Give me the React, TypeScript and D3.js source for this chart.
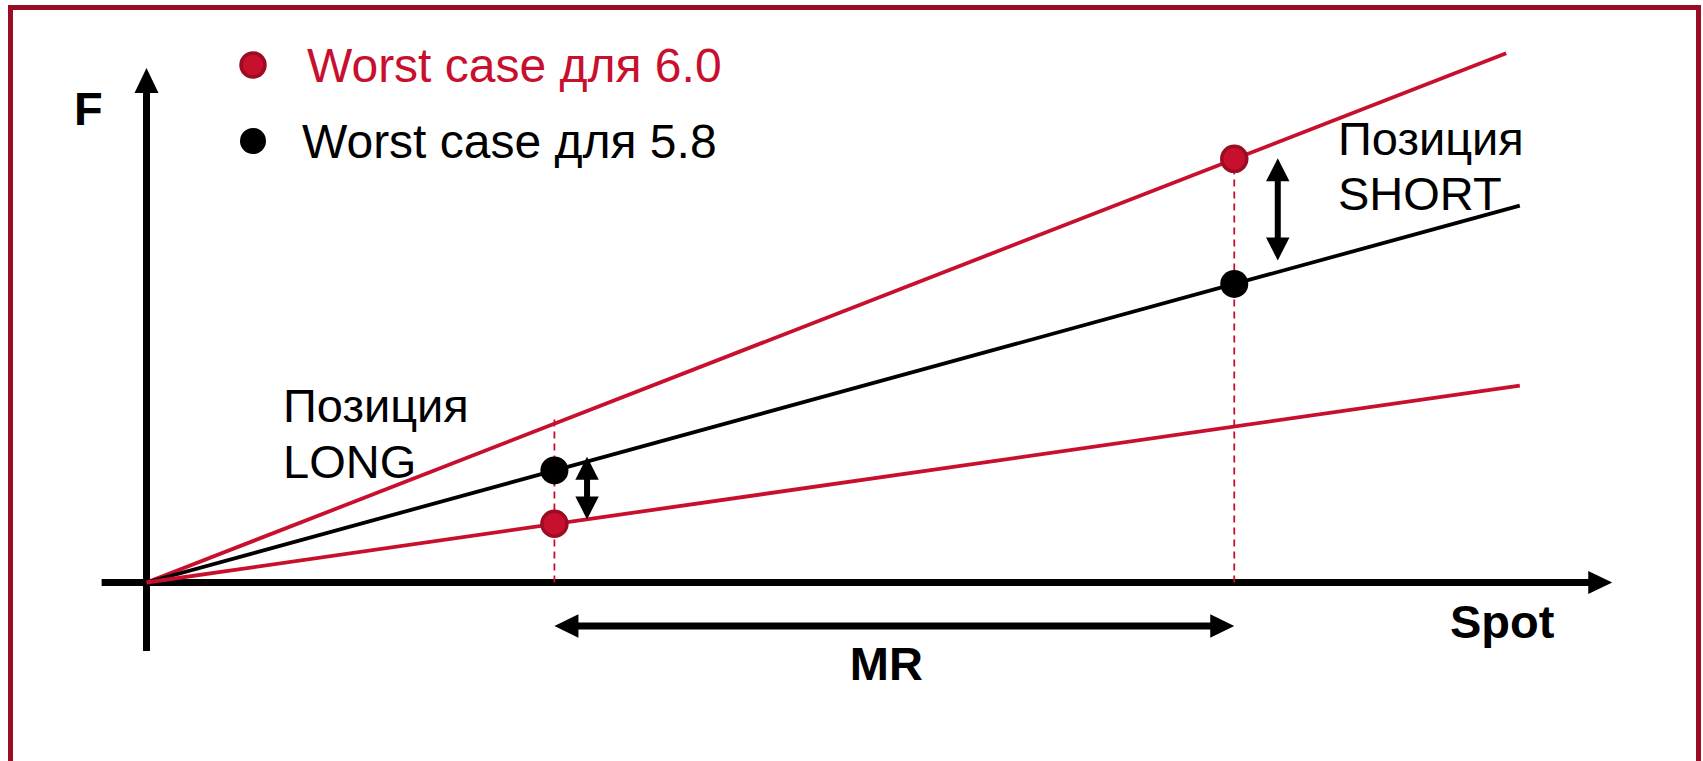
import React from "react";
import * as d3 from "d3";

// Futures price F against Spot: worst-case lines for two parameter levels
const lineKeys = ["upper6", "base58", "lower6"];
const lineSeries = ["6.0", "5.8", "6.0"];
const lineSpotEnd = [10.0, 10.1, 10.1];
const lineFEnd = [9.73, 6.93, 3.62];

// Worst-case points at the two ends of the MR interval
const pointSpot = [3, 3, 8, 8];
const pointF = [2.06, 1.08, 7.79, 5.49];
const pointSeries = ["5.8", "6.0", "6.0", "5.8"];

// Dashed guides from the Spot axis up to the worst-case lines
const guideSpot = [3, 8];
const guideFTop = [3.02, 7.79];

// Double arrows showing the gap between the worst cases
const gapSpot = [3.24, 8.32];
const gapFLow = [1.16, 5.92];
const gapFHigh = [2.31, 7.8];

// MR interval arrow below the Spot axis
const mrSpot = [3, 8];
const mrF = -0.8;

// Axis extents
const spotAxisRange = [-0.33, 10.78];
const fAxisRange = [-1.26, 9.46];

const legendLabels = ["Worst case для 6.0", "Worst case для 5.8"];
const legendSeries = ["6.0", "5.8"];

const RED = "#C8102E";
const RED_DARK = "#9B0D23";
const BORDER = "#990C24";
const FONT = "'Liberation Sans', Arial, Helvetica, sans-serif";

const W = 1703;
const H = 761;

const x = d3.scaleLinear().domain([0, 10]).range([146.5, 1506.2]);
const y = d3.scaleLinear().domain([0, 10]).range([582.5, 582.5 - 543.9]);

const seriesColor = (s: string) => (s === "6.0" ? RED : "#000");

function head(tx: number, ty: number, dx: number, dy: number, len: number, half: number) {
  // arrowhead polygon with tip at (tx,ty) pointing along (dx,dy)
  const bx = tx - dx * len;
  const by = ty - dy * len;
  const px = -dy * half;
  const py = dx * half;
  return `${tx},${ty} ${bx + px},${by + py} ${bx - px},${by - py}`;
}

export default function App() {
  const line = d3
    .line<[number, number]>()
    .x((d) => x(d[0]))
    .y((d) => y(d[1]));

  const x0 = x(0);
  const y0 = y(0);
  const xAxisEnd = x(spotAxisRange[1]);
  const yAxisTop = y(fAxisRange[1]);
  const mrY = y(mrF);

  return (
    <svg
      width={W}
      height={H}
      viewBox={`0 0 ${W} ${H}`}
      style={{ position: "absolute", left: 0, top: 0, background: "#fff" }}
      fontFamily={FONT}
    >
      <rect x={0} y={0} width={W} height={H} fill="#fff" />
      {/* frame */}
      <rect x={10.5} y={7.5} width={1688} height={H + 20} fill="none" stroke={BORDER} strokeWidth={5} />

      {/* axes */}
      <line x1={x(spotAxisRange[0])} y1={y0} x2={xAxisEnd - 20} y2={y0} stroke="#000" strokeWidth={7} />
      <polygon points={head(xAxisEnd, y0, 1, 0, 24, 11.5)} fill="#000" />
      <line x1={x0} y1={y(fAxisRange[0])} x2={x0} y2={yAxisTop + 20} stroke="#000" strokeWidth={7} />
      <polygon points={head(x0, yAxisTop, 0, -1, 25, 12)} fill="#000" />

      {/* dashed guides */}
      {guideSpot.map((s, i) => (
        <line
          key={`g${i}`}
          x1={x(s)}
          y1={y0}
          x2={x(s)}
          y2={y(guideFTop[i])}
          stroke={RED}
          strokeWidth={1.8}
          strokeDasharray="7,5"
        />
      ))}

      {/* worst-case lines */}
      {lineKeys.map((k, i) => (
        <path
          key={k}
          d={line([
            [0, 0],
            [lineSpotEnd[i], lineFEnd[i]],
          ]) as string}
          fill="none"
          stroke={seriesColor(lineSeries[i])}
          strokeWidth={3.8}
        />
      ))}

      {/* gap arrows */}
      {gapSpot.map((s, i) => {
        const gx = x(s);
        const top = y(gapFHigh[i]);
        const bot = y(gapFLow[i]);
        return (
          <g key={`a${i}`}>
            <line x1={gx} y1={top + 20} x2={gx} y2={bot - 20} stroke="#000" strokeWidth={6} />
            <polygon points={head(gx, top, 0, -1, 23, 11.7)} fill="#000" />
            <polygon points={head(gx, bot, 0, 1, 23, 11.7)} fill="#000" />
          </g>
        );
      })}

      {/* MR interval */}
      <line x1={x(mrSpot[0]) + 20} y1={mrY} x2={x(mrSpot[1]) - 20} y2={mrY} stroke="#000" strokeWidth={7} />
      <polygon points={head(x(mrSpot[0]), mrY, -1, 0, 24, 11.7)} fill="#000" />
      <polygon points={head(x(mrSpot[1]), mrY, 1, 0, 24, 11.7)} fill="#000" />

      {/* worst-case points */}
      {pointSpot.map((s, i) =>
        pointSeries[i] === "6.0" ? (
          <circle key={`p${i}`} cx={x(s)} cy={y(pointF[i])} r={12.5} fill={RED} stroke={RED_DARK} strokeWidth={3.5} />
        ) : (
          <circle key={`p${i}`} cx={x(s)} cy={y(pointF[i])} r={14} fill="#000" />
        )
      )}

      {/* legend */}
      {legendLabels.map((t, i) => {
        const cy = i === 0 ? 65 : 141;
        return (
          <g key={t}>
            {legendSeries[i] === "6.0" ? (
              <circle cx={253} cy={cy} r={12} fill={RED} stroke={RED_DARK} strokeWidth={3.5} />
            ) : (
              <circle cx={253} cy={cy} r={13} fill="#000" />
            )}
            <text
              x={i === 0 ? 307 : 302}
              y={cy + 17}
              fontSize={48}
              fill={seriesColor(legendSeries[i])}
            >
              {t}
            </text>
          </g>
        );
      })}

      {/* axis titles */}
      <text x={74} y={125} fontSize={47} fontWeight="bold">F</text>
      <text x={1450} y={638} fontSize={47} fontWeight="bold">Spot</text>
      <text x={(x(mrSpot[0]) + x(mrSpot[1])) / 2 - 8} y={680} fontSize={47} fontWeight="bold" textAnchor="middle">MR</text>

      {/* position labels */}
      <text x={283} y={421.5} fontSize={47}>Позиция</text>
      <text x={283} y={478} fontSize={47}>LONG</text>
      <text x={1338} y={155} fontSize={47}>Позиция</text>
      <text x={1338} y={210} fontSize={47}>SHORT</text>
    </svg>
  );
}
